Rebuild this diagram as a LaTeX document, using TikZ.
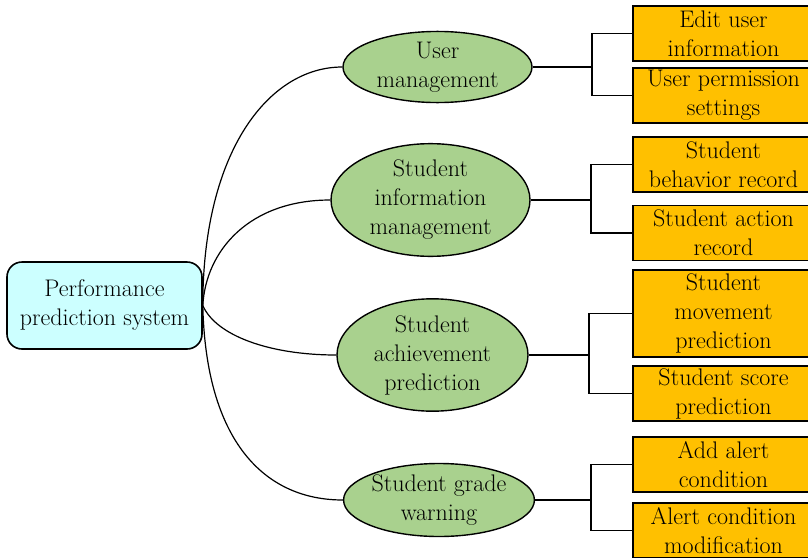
\documentclass[tikz,border=0pt]{standalone}
\usepackage{fontspec}
\usetikzlibrary{shapes.geometric}
\definecolor{rootfill}{HTML}{CCFFFF}
\definecolor{topicfill}{HTML}{A9D18E}
\definecolor{leaffill}{HTML}{FFC000}
\begin{document}
\begin{tikzpicture}[x=1pt,y=-1pt,
  every node/.style={inner sep=0pt, align=center, font=\fontsize{24}{29}\selectfont},
  rootbox/.style={draw, line width=1.6pt, fill=rootfill, rounded corners=15pt,
    minimum width=195pt, minimum height=87pt},
  topic/.style={ellipse, draw, line width=1.4pt, fill=topicfill},
  leaf/.style={draw, line width=1.6pt, fill=leaffill, minimum width=181pt},
  link/.style={line width=1.2pt},
  bracket/.style={line width=1.5pt}]
\useasboundingbox (0,0) rectangle (808,557);
\clip (0,0) rectangle (808,557);
\fill[white] (0,0) rectangle (808,557);

% central node
\node[rootbox] (root) at (104.5,305.5) {Performance\\prediction system};

% second level
\node[topic, minimum width=189pt, minimum height=68pt] (e1) at (437.5,67) {User\\management};
\node[topic, minimum width=199pt, minimum height=95pt] (e2) at (430.5,200) {Student\\information\\management};
\node[topic, minimum width=191pt, minimum height=94pt] (e3) at (432.5,355) {Student\\achievement\\prediction};
\node[topic, minimum width=180pt, minimum height=73pt] (e4) at (439,500) {Student grade\\warning};

% third level
\node[leaf, minimum height=55pt] (b1) at (723.5,33.5) {Edit user\\information};
\node[leaf, minimum height=55pt] (b2) at (723.5,95.5) {User permission\\settings};
\node[leaf, minimum height=55pt] (b3) at (723.5,164.5) {Student\\behavior record};
\node[leaf, minimum height=55pt] (b4) at (723.5,233) {Student action\\record};
\node[leaf, minimum height=87pt] (b5) at (723.5,313.5) {Student\\movement\\prediction};
\node[leaf, minimum height=55pt] (b6) at (723.5,393.5) {Student score\\prediction};
\node[leaf, minimum height=55pt] (b7) at (723.5,464.5) {Add alert\\condition};
\node[leaf, minimum height=55pt] (b8) at (723.5,530.5) {Alert condition\\modification};

% curved links from the centre
\draw[link] (root.east) .. controls +(0,-155) and +(-73,0) .. (e1.west);
\draw[link] (root.east) .. controls +(3,-55) and +(-81,0) .. (e2.west);
\draw[link] (root.east) .. controls +(13,30) and +(-67,0) .. (e3.west);
\draw[link] (root.east) .. controls +(3,135) and +(-79,0) .. (e4.west);

% bracket junctions, level with each ellipse centre
\coordinate (j1) at (592,67);
\coordinate (j2) at (591,200);
\coordinate (j3) at (589,355);
\coordinate (j4) at (591,500);

\draw[bracket] (e1.east) -- (j1);
\draw[bracket] (b1.west) -| (j1) |- (b2.west);
\draw[bracket] (e2.east) -- (j2);
\draw[bracket] (b3.west) -| (j2) |- (b4.west);
\draw[bracket] (e3.east) -- (j3);
\draw[bracket] (b5.west) -| (j3) |- (b6.west);
\draw[bracket] (e4.east) -- (j4);
\draw[bracket] (b7.west) -| (j4) |- (b8.west);
\end{tikzpicture}
\end{document}
